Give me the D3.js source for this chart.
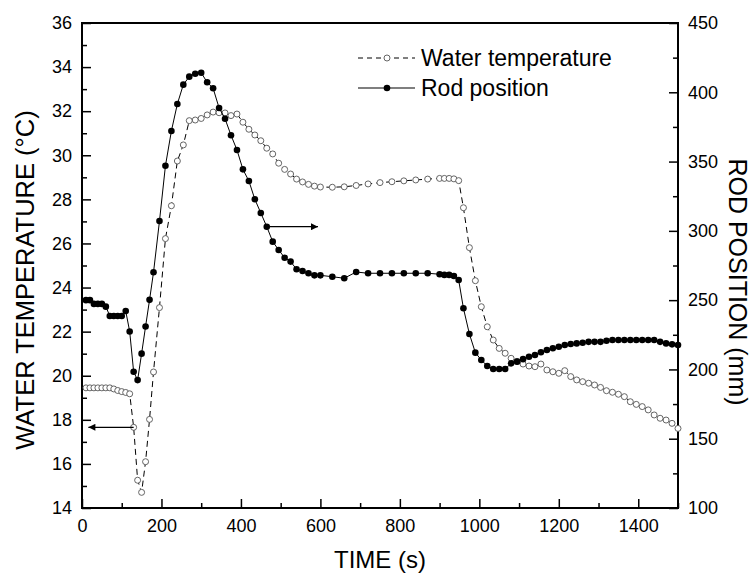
<!DOCTYPE html>
<html>
<head>
<meta charset="utf-8">
<script src="https://cdn.jsdelivr.net/npm/d3@7/dist/d3.min.js"></script>
<style>
  body { margin: 0; background: #fff; }
  svg { display: block; font-family: "Liberation Sans", Arial, sans-serif; }
</style>
</head>
<body>
<div id="chart"></div>
<script>
// time axis (s)
var time = [10,20,30,40,50,60,70,80,90,100,110,120,130,140,150,160,170,180,
    195,210,225,240,255,270,285,300,315,330,345,360,375,390,405,420,435,450,465,480,495,510,525,540,555,570,585,600,
    630,660,690,720,750,780,810,840,870,900,
    912,924,936,948,
    960,975,990,1005,1020,1035,1050,1065,1080,1095,1110,1125,1140,1155,1170,1185,1200,1215,1230,1245,
    1260,1275,1290,1305,1320,1335,1350,1365,1380,1395,1410,1425,1440,1455,1470,1485,1500];

// water temperature (°C), left axis
var waterTemp = [19.45,19.45,19.45,19.45,19.45,19.45,19.45,19.4,19.33,19.28,19.24,19.18,17.66,15.26,14.71,16.1,18.02,20.17,
    23.09,26.22,27.71,29.74,30.47,31.57,31.6,31.67,31.83,31.96,31.93,31.92,31.8,31.87,31.5,31.18,30.92,30.66,30.32,30.06,29.64,29.36,29.15,28.92,28.79,28.68,28.6,28.56,
    28.55,28.57,28.63,28.7,28.76,28.8,28.84,28.88,28.92,28.95,
    28.95,28.95,28.93,28.85,
    27.62,25.81,24.31,23.13,22.22,21.62,21.24,21.02,20.79,20.65,20.53,20.44,20.41,20.53,20.26,20.18,20.11,20.23,19.96,19.81,
    19.73,19.66,19.58,19.47,19.32,19.25,19.16,19.05,18.82,18.7,18.6,18.45,18.22,18.07,17.99,17.84,17.61];

// rod position (mm), right axis
var rodPos = [250,250,247.3,247.3,247.3,245.3,238.6,238.6,238.6,238.6,242.2,227.4,198.3,192.3,211.4,231,250.2,270.1,
    307.1,347,372.1,391.6,405.5,411.3,413.4,414.1,407.2,402.9,388.7,380.9,369,358.4,344.4,336,322.8,312.9,303,292.2,286.2,280.6,277.8,272.3,271,269.4,267.9,267.9,
    266.9,265.8,270.3,269.4,269.4,269.4,269.4,269.4,269.4,268.7,
    268.2,268.2,267.4,264.5,
    244.1,225.6,212.1,206.8,202.5,200.3,200.3,200.3,204.4,205.6,207.4,209.2,210.4,212.4,214,215.3,216.4,217.6,218.3,218.8,
    219.2,219.9,219.9,219.9,220.7,221.2,221.2,221.2,221.2,221.2,221.2,221.2,221.2,219.9,218.8,218.1,217.6];

var xTicks = [0,200,400,600,800,1000,1200,1400];
var xMinor = [100,300,500,700,900,1100,1300,1500];
var tempTicks = [14,16,18,20,22,24,26,28,30,32,34,36];
var tempMinor = [15,17,19,21,23,25,27,29,31,33,35];
var rodTicks = [100,150,200,250,300,350,400,450];
var rodMinor = [125,175,225,275,325,375,425];

var seriesNames = ["Water temperature", "Rod position"];

// annotation arrows: [tStart, tEnd, value]
var waterArrow = [130, 16, 17.66];
var rodArrow = [465, 594, 303];

function init() {
    var W = 752, H = 579;
    var margin = {top: 23, right: 74, bottom: 71, left: 82};
    var w = W - margin.left - margin.right;
    var h = H - margin.top - margin.bottom;

    var svg = d3.select("#chart").append("svg")
        .attr("width", W)
        .attr("height", H);

    var defs = svg.append("defs");
    defs.append("marker")
        .attr("id", "arrow")
        .attr("viewBox", "0 0 10 10")
        .attr("refX", 10).attr("refY", 5)
        .attr("markerWidth", 10).attr("markerHeight", 7)
        .attr("markerUnits", "userSpaceOnUse")
        .attr("orient", "auto")
        .append("path")
        .attr("d", "M0,0L10,5L0,10z")
        .attr("fill", "#000");

    var g = svg.append("g")
        .attr("transform", "translate(" + margin.left + "," + margin.top + ")");

    var x = d3.scaleLinear().domain([0, 1500]).range([0, w]);
    var yT = d3.scaleLinear().domain([14, 36]).range([h, 0]);
    var yR = d3.scaleLinear().domain([100, 450]).range([h, 0]);

    function styleAxis(sel) {
        sel.select(".domain").remove();
        sel.selectAll("line").attr("stroke", "#000").attr("stroke-width", 1.5);
        sel.selectAll("text").attr("fill", "#000").style("font-size", "18px");
    }

    // bottom axis
    g.append("g").attr("transform", "translate(0," + h + ")")
        .call(d3.axisBottom(x).tickValues(xTicks).tickSize(-9).tickPadding(11).tickFormat(d3.format("d")))
        .call(styleAxis);
    g.append("g").attr("transform", "translate(0," + h + ")")
        .call(d3.axisBottom(x).tickValues(xMinor).tickSize(-5).tickFormat(""))
        .call(styleAxis);

    // left axis
    g.append("g")
        .call(d3.axisLeft(yT).tickValues(tempTicks).tickSize(-9).tickPadding(10))
        .call(styleAxis);
    g.append("g")
        .call(d3.axisLeft(yT).tickValues(tempMinor).tickSize(-5).tickFormat(""))
        .call(styleAxis);

    // right axis
    g.append("g").attr("transform", "translate(" + w + ",0)")
        .call(d3.axisRight(yR).tickValues(rodTicks).tickSize(-9).tickPadding(10))
        .call(styleAxis);
    g.append("g").attr("transform", "translate(" + w + ",0)")
        .call(d3.axisRight(yR).tickValues(rodMinor).tickSize(-5).tickFormat(""))
        .call(styleAxis);

    // frame
    g.append("rect")
        .attr("width", w).attr("height", h)
        .attr("fill", "none")
        .attr("stroke", "#000")
        .attr("stroke-width", 2);

    // water temperature
    var lineT = d3.line()
        .x(function(d, i) { return x(time[i]); })
        .y(function(d) { return yT(d); });
    g.append("path")
        .datum(waterTemp)
        .attr("d", lineT)
        .attr("fill", "none")
        .attr("stroke", "#000")
        .attr("stroke-width", 1)
        .attr("stroke-dasharray", "6,4");
    g.selectAll(".wt")
        .data(waterTemp)
        .enter()
        .append("circle")
        .attr("class", "wt")
        .attr("cx", function(d, i) { return x(time[i]); })
        .attr("cy", function(d) { return yT(d); })
        .attr("r", 3)
        .attr("fill", "#fff")
        .attr("stroke", "#555")
        .attr("stroke-width", 0.9);

    // rod position
    var lineR = d3.line()
        .x(function(d, i) { return x(time[i]); })
        .y(function(d) { return yR(d); });
    g.append("path")
        .datum(rodPos)
        .attr("d", lineR)
        .attr("fill", "none")
        .attr("stroke", "#000")
        .attr("stroke-width", 1);
    g.selectAll(".rp")
        .data(rodPos)
        .enter()
        .append("circle")
        .attr("class", "rp")
        .attr("cx", function(d, i) { return x(time[i]); })
        .attr("cy", function(d) { return yR(d); })
        .attr("r", 3.3)
        .attr("fill", "#000");

    // arrows
    g.append("line")
        .attr("x1", x(waterArrow[0])).attr("x2", x(waterArrow[1]))
        .attr("y1", yT(waterArrow[2])).attr("y2", yT(waterArrow[2]))
        .attr("stroke", "#000").attr("stroke-width", 1.2)
        .attr("marker-end", "url(#arrow)");
    g.append("line")
        .attr("x1", x(rodArrow[0])).attr("x2", x(rodArrow[1]))
        .attr("y1", yR(rodArrow[2])).attr("y2", yR(rodArrow[2]))
        .attr("stroke", "#000").attr("stroke-width", 1.2)
        .attr("marker-end", "url(#arrow)");

    // legend
    var lg = svg.append("g").attr("transform", "translate(358,58)");
    lg.append("line").attr("x1", 0).attr("x2", 57).attr("y1", 0).attr("y2", 0)
        .attr("stroke", "#000").attr("stroke-dasharray", "5,4");
    lg.append("circle").attr("cx", 29).attr("cy", 0).attr("r", 3)
        .attr("fill", "#fff").attr("stroke", "#555").attr("stroke-width", 0.9);
    lg.append("text").attr("x", 63).attr("y", 0).attr("dy", "0.36em")
        .style("font-size", "23px").text(seriesNames[0]);
    lg.append("line").attr("x1", 0).attr("x2", 57).attr("y1", 30).attr("y2", 30)
        .attr("stroke", "#000").attr("stroke-width", 1.2);
    lg.append("circle").attr("cx", 29).attr("cy", 30).attr("r", 3.3).attr("fill", "#000");
    lg.append("text").attr("x", 63).attr("y", 30).attr("dy", "0.36em")
        .style("font-size", "23px").text(seriesNames[1]);

    // axis titles
    svg.append("text")
        .attr("x", margin.left + w / 2).attr("y", 568)
        .attr("text-anchor", "middle")
        .style("font-size", "24px")
        .text("TIME (s)");
    svg.append("text")
        .attr("transform", "translate(34,280) rotate(-90)")
        .attr("text-anchor", "middle")
        .style("font-size", "25.5px")
        .text("WATER TEMPERATURE (\u00B0C)");
    svg.append("text")
        .attr("transform", "translate(729,282) rotate(90)")
        .attr("text-anchor", "middle")
        .style("font-size", "25px")
        .text("ROD POSITION (mm)");
}

window.onload = init;
</script>
</body>
</html>
